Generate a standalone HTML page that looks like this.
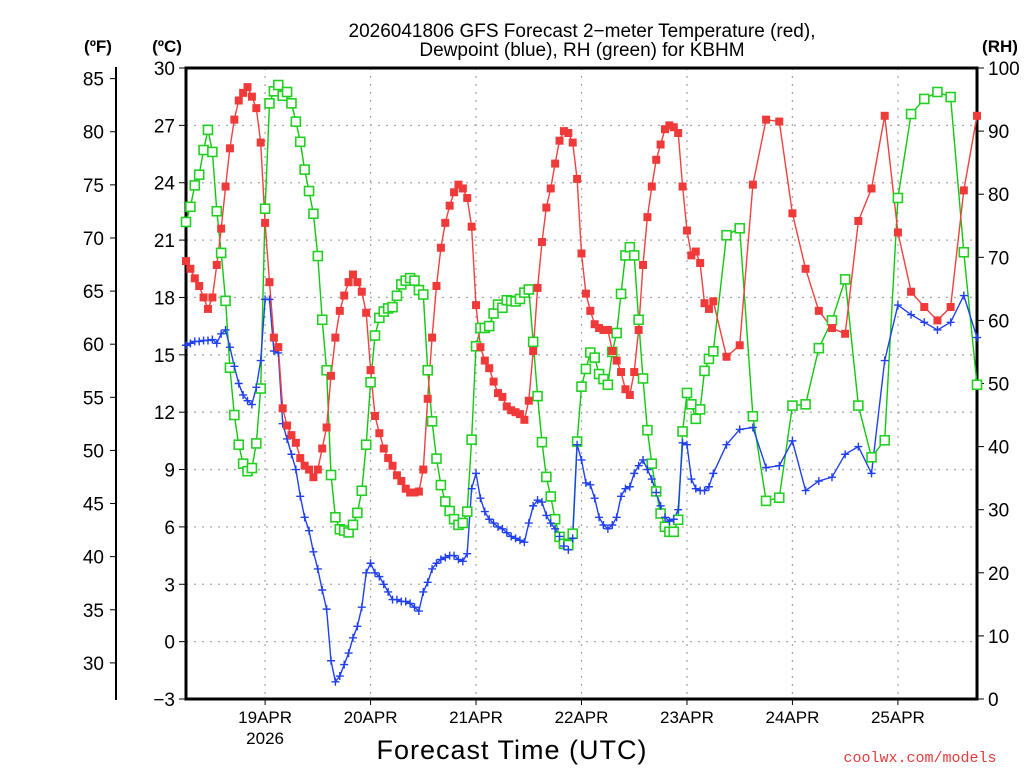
<!DOCTYPE html>
<html><head><meta charset="utf-8">
<style>
html,body{margin:0;padding:0;background:#fff;}
svg{display:block;font-family:"Liberation Sans",sans-serif;}
</style></head>
<body>
<svg id="chart" width="1024" height="768" viewBox="0 0 1024 768" xmlns="http://www.w3.org/2000/svg">
<rect x="0" y="0" width="1024" height="768" fill="#fff"/>
<text x="582" y="37" font-size="19" text-anchor="middle" fill="#000">2026041806 GFS Forecast 2−meter Temperature (red),</text>
<text x="582" y="56" font-size="19" text-anchor="middle" fill="#000">Dewpoint (blue), RH (green) for KBHM</text>
<text x="98" y="52" font-size="17" font-weight="bold" text-anchor="middle">(ºF)</text>
<text x="167" y="52" font-size="17" font-weight="bold" text-anchor="middle">(ºC)</text>
<text x="1000" y="52" font-size="17" font-weight="bold" text-anchor="middle">(RH)</text>
<text x="512" y="759" font-size="27" text-anchor="middle" letter-spacing="1">Forecast Time (UTC)</text>
<text x="920" y="762" font-size="15" text-anchor="middle" fill="#e83a3a" font-family="Liberation Mono, monospace">coolwx.com/models</text>
<g id="grid"></g><g id="axes"></g><g id="series"></g>
</svg>
<script>
// ---- data ----
const tempHours=[0,1,2,3,4,5,6,7,8,9,10,11,12,13,14,15,16,17,18,19,20,21,22,23,24,25,26,27,28,29,30,31,32,33,34,35,36,37,38,39,40,41,42,43,44,45,46,47,48,49,50,51,52,53,54,55,56,57,58,59,60,61,62,63,64,65,66,67,68,69,70,71,72,73,74,75,76,77,78,79,80,81,82,83,84,85,86,87,88,89,90,91,92,93,94,95,96,97,98,99,100,101,102,103,104,105,106,107,108,109,110,111,112,113,114,115,116,117,118,119,120,123,126,129,132,135,138,141,144,147,150,153,156,159,162,165,168,171,174,177,180];
const tempC=[19.9,19.5,19.0,18.6,18.0,17.4,18.0,19.7,21.6,23.8,25.8,27.3,28.3,28.7,29.0,28.5,27.9,26.1,21.9,18.8,15.9,15.4,12.2,11.3,10.8,10.4,9.6,9.2,9.0,8.6,9.0,10.1,11.2,13.9,15.9,17.3,18.1,18.8,19.2,18.8,18.3,17.2,14.2,11.8,10.9,10.1,9.6,9.2,8.7,8.4,8.0,7.8,7.8,7.85,9.0,12.7,15.9,18.6,20.6,21.9,22.8,23.5,23.9,23.7,23.2,21.7,17.6,15.4,14.7,14.3,13.6,13.0,12.8,12.3,12.1,12.0,11.9,11.6,12.6,15.2,18.5,20.9,22.7,23.7,25.0,26.2,26.7,26.6,26.1,24.2,20.3,18.2,17.3,16.6,16.4,16.3,16.3,15.2,14.7,14.1,13.2,12.9,14.1,16.3,19.7,22.2,23.8,25.2,26.0,26.8,27.0,26.9,26.6,23.8,21.5,20.2,20.4,19.8,17.7,17.4,17.8,14.9,15.5,23.9,27.3,27.2,22.4,19.5,17.3,16.4,16.1,22.0,23.7,27.5,21.4,18.3,17.5,16.8,17.5,23.6,27.5];
const dewHours=tempHours;
const dewC=[15.5,15.6,15.7,15.7,15.75,15.75,15.8,15.6,16.1,16.3,15.4,14.4,13.5,12.9,12.6,12.4,13.3,14.7,17.9,17.9,15.2,15.1,11.4,10.6,9.8,9.0,7.6,6.5,5.8,4.7,3.8,2.7,1.7,-1.0,-2.1,-1.8,-1.2,-0.6,0.2,0.8,1.8,3.6,4.1,3.6,3.4,3.0,2.6,2.2,2.2,2.1,2.1,2.0,1.8,1.6,2.6,3.1,3.8,4.1,4.3,4.4,4.5,4.5,4.3,4.2,4.6,8.0,8.8,7.5,6.8,6.4,6.2,6.0,5.9,5.7,5.5,5.4,5.3,5.2,6.2,7.1,7.4,7.3,6.6,6.2,5.9,5.5,5.0,4.8,5.4,10.3,9.5,8.3,8.2,7.5,6.5,6.1,5.9,6.1,6.5,7.6,8.0,8.1,8.8,9.2,9.5,9.0,8.5,7.8,7.1,6.5,6.3,6.4,6.9,10.4,10.3,8.5,8.0,7.9,7.9,8.1,8.8,10.3,11.1,11.2,9.1,9.2,10.5,7.9,8.4,8.6,9.8,10.2,8.8,14.7,17.6,17.1,16.7,16.3,16.7,18.1,15.9];
const rhHours=tempHours;
const rhPct=[75.6,78.0,81.4,83.1,87.0,90.2,86.7,77.3,70.7,63.1,52.5,45.0,40.3,37.3,36.1,36.6,40.5,49.2,77.7,94.4,96.3,97.3,95.6,96.2,94.4,91.5,88.3,83.9,80.5,76.9,70.2,60.1,52.1,35.5,28.8,26.9,26.7,26.4,27.6,29.5,33.0,40.3,50.2,57.6,60.4,61.4,61.9,62.1,63.9,65.7,66.3,66.7,66.3,64.8,64.1,52.1,44.0,38.1,33.9,31.3,29.8,28.5,27.6,27.9,29.7,41.1,55.9,58.8,58.8,59.1,61.1,62.5,62.0,63.2,63.1,63.0,63.4,64.4,64.9,56.6,48.0,40.7,35.2,32.1,28.5,25.7,24.6,24.4,26.2,40.8,49.5,52.3,54.9,54.1,51.5,50.7,49.8,55.0,58.0,64.2,70.3,71.6,70.3,60.1,50.8,42.6,37.3,32.9,29.4,27.3,26.5,26.5,28.4,42.4,48.5,46.7,44.4,45.9,52.0,53.9,55.1,73.5,74.6,44.8,31.4,31.9,46.5,46.7,55.6,60.0,66.5,46.5,38.3,41.0,79.4,92.7,95.1,96.2,95.4,70.8,49.8];
const celsiusTicks=[-3,0,3,6,9,12,15,18,21,24,27,30];
const fahrenheitTicks=[30,35,40,45,50,55,60,65,70,75,80,85];
const rhTicks=[0,10,20,30,40,50,60,70,80,90,100];
const dayLabels=["19APR","20APR","21APR","22APR","23APR","24APR","25APR"];
const dayHours=[18,42,66,90,114,138,162];

// ---- layout ----
const L=186,R=977,T=68,B=699, H0=0,H1=180;
const NS="http://www.w3.org/2000/svg";
const xS=h=>L+(h-H0)/(H1-H0)*(R-L);
const yC=c=>B-(c+3)/33*(B-T);
const yF=f=>yC((f-32)*5/9);
const yR=r=>B-r/100*(B-T);
function mk(tag,attrs,parent){const e=document.createElementNS(NS,tag);for(const k in attrs)e.setAttribute(k,attrs[k]);parent.appendChild(e);return e;}
const grid=document.getElementById('grid'),axes=document.getElementById('axes'),series=document.getElementById('series');

celsiusTicks.forEach(c=>{
  const y=yC(c);
  if(c>-3&&c<30){const g=mk('line',{x1:L,x2:R,y1:y,y2:y,stroke:'#aaa','stroke-width':1.3,'stroke-dasharray':'2,6'},grid);
  
  }
  const t=mk('line',{x1:L-7,x2:L,y1:y,y2:y,stroke:'#000','stroke-width':1},axes);
  
  
  const tx=mk('text',{x:L-11,y:y+7,'font-size':19,'text-anchor':'end'},axes);
  tx.textContent=c<0?'−'+(-c):String(c);
  
  
});
dayHours.forEach((h,i)=>{
  const x=xS(h);
  const g=mk('line',{x1:x,x2:x,y1:T,y2:B,stroke:'#aaa','stroke-width':1.3,'stroke-dasharray':'2,6'},grid);
  
  
  const t=mk('line',{x1:x,x2:x,y1:B,y2:B+6,stroke:'#000','stroke-width':1},axes);
  
  
  const tx=mk('text',{x:x,y:B+24,'font-size':17,'text-anchor':'middle'},axes);
  tx.textContent=dayLabels[i];
  
  
});
const yr=mk('text',{x:xS(dayHours[0]),y:B+45,'font-size':17,'text-anchor':'middle'},axes);
yr.textContent='2026';



const fl=mk('line',{x1:116,x2:116,y1:67,y2:700,stroke:'#000','stroke-width':2},axes);


fahrenheitTicks.forEach(f=>{
  const y=yF(f);
  const t=mk('line',{x1:110,x2:116,y1:y,y2:y,stroke:'#000','stroke-width':1},axes);
  
  
  const tx=mk('text',{x:104,y:y+7,'font-size':19,'text-anchor':'end'},axes);
  tx.textContent=String(f);
  
  
});
rhTicks.forEach(r=>{
  const y=yR(r);
  const t=mk('line',{x1:R,x2:R+7,y1:y,y2:y,stroke:'#000','stroke-width':1},axes);
  
  
  const tx=mk('text',{x:R+11,y:y+7,'font-size':19,'text-anchor':'start'},axes);
  tx.textContent=String(r);
  
  
});
const frame=mk('rect',{x:L,y:T,width:R-L,height:B-T,fill:'none',stroke:'#000','stroke-width':3},axes);



function line(hours,vals,ys,color,name){
  const pts=hours.map((h,i)=>xS(h).toFixed(1)+','+ys(vals[i]).toFixed(1)).join(' ');
  const p=mk('polyline',{points:pts,fill:'none',stroke:color,'stroke-width':1.4},series);
  
  
}
line(rhHours,rhPct,yR,'#10c810','rh-line');
line(dewHours,dewC,yC,'#2040f0','dewpoint-line');
line(tempHours,tempC,yC,'#f04040','temperature-line');
rhHours.forEach((h,i)=>{
  const m=mk('rect',{x:xS(h)-4.5,y:yR(rhPct[i])-4.5,width:9,height:9,fill:'#fff',stroke:'#22d022','stroke-width':1.6},series);
  
  
});
dewHours.forEach((h,i)=>{
  const x=xS(h),y=yC(dewC[i]);
  const m=mk('path',{d:`M${x-4},${y}H${x+4}M${x},${y-4}V${y+4}`,stroke:'#2040f0','stroke-width':1.4,fill:'none'},series);
  
  
});
tempHours.forEach((h,i)=>{
  const m=mk('rect',{x:xS(h)-4,y:yC(tempC[i])-4,width:8,height:8,fill:'#f03a3a'},series);
  
  
});
</script>
</body></html>
